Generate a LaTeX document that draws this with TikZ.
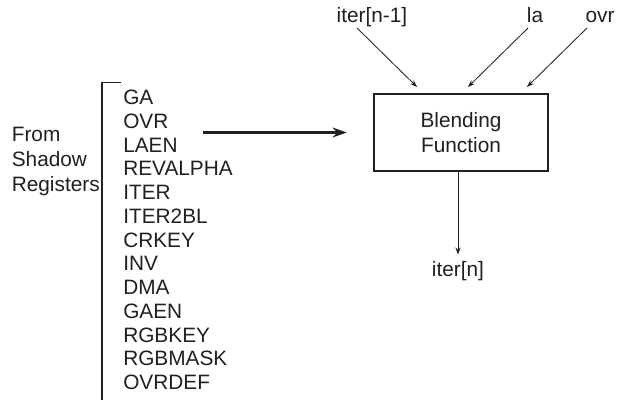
\documentclass[tikz,border=0pt]{standalone}
\usepackage{fontspec}
\setmainfont{Liberation Sans}
\usetikzlibrary{arrows.meta, positioning, calc}
\definecolor{inkgray}{HTML}{231F20}

\begin{document}
\begin{tikzpicture}[
      x=0.025cm, y=-0.025cm,
      color=inkgray,
      sig/.style={font=\fontsize{14.8}{18}\selectfont, inner sep=0pt},
      reglist/.style={font=\fontsize{14.8}{16.9}\selectfont, align=left,
        inner sep=0pt},
      blendbox/.style={draw, line width=1.4pt, minimum width=4.325cm,
        minimum height=1.925cm, align=center,
        font=\fontsize{14.8}{17.8}\selectfont},
      thinarrow/.style={-{Stealth[length=5pt, width=3.6pt]}, line width=0.6pt},
      busarrow/.style={-{Stealth[length=10pt, width=7pt]}, line width=1.6pt}
    ]
      \useasboundingbox (0,0) rectangle (619,400);
      \node[blendbox] (blend) at (461,132.5) {Blending\\Function};
      % inputs on top
      \node[sig, anchor=base] (iterprev) at (372,23) {iter[n-1]};
      \node[sig, anchor=base] (la) at (535,23) {la};
      \node[sig, anchor=base] (ovr) at (600,23) {ovr};
      \coordinate (in1) at ($(blend.north)+(-44,-6)$);
      \coordinate (in2) at ($(blend.north)+(7,-6)$);
      \coordinate (in3) at ($(blend.north)+(66,-6)$);
      \draw[thinarrow] ($(iterprev.base)+(-15,5)$) -- (in1);
      \draw[thinarrow] ($(la.base)+(-7,5)$) -- (in2);
      \draw[thinarrow] ($(ovr.base)+(-13,5)$) -- (in3);
      % output
      \node[sig] (itern) at (458,271) {iter[n]};
      \draw[thinarrow, shorten >=4.6pt] (itern.north |- blend.south) -- (itern.north);
      % shadow registers
      \node[reglist, anchor=west] (regs) at (123,240)
        {GA\\OVR\\LAEN\\REVALPHA\\ITER\\ITER2BL\\CRKEY\\INV\\DMA\\GAEN\\RGBKEY\\RGBMASK\\OVRDEF};
      \node[sig, align=left, anchor=east,
        font=\fontsize{14.8}{18.1}\selectfont] (shadow) at (100,161.5)
        {From\\Shadow\\Registers};
      \coordinate (brtop) at ($(regs.north west)+(-2,-7)$);
      \coordinate (brbot) at ($(regs.south west)+(-21,12)$);
      \draw[line width=0.8pt] (brtop) -| (brbot);
      \coordinate (busstart) at (203,132.5);
      \draw[busarrow, shorten >=19pt] (busstart) -- (blend.west);
    \end{tikzpicture}
\end{document}
